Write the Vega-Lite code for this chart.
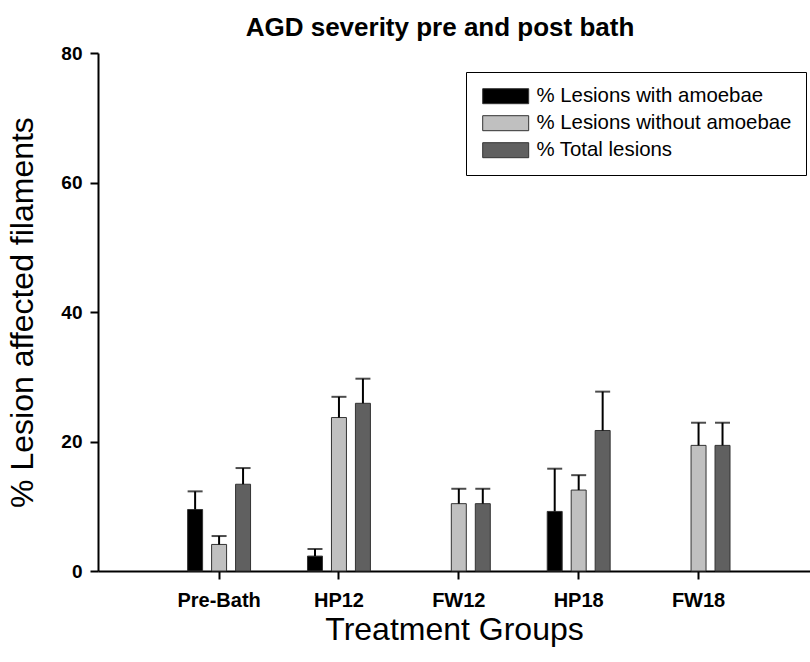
{
  "$schema": "https://vega.github.io/schema/vega-lite/v6.json",
  "autosize": {"type": "none"},
  "padding": {"left": 98, "top": 53, "right": 0, "bottom": 91},
  "width": 712,
  "height": 518,
  "background": "white",
  "title": {
    "text": "AGD severity pre and post bath",
    "font": "Liberation Sans",
    "fontSize": 26,
    "fontWeight": "bold",
    "color": "black",
    "anchor": "middle",
    "dx": -14,
    "offset": 3
  },
  "data": {
    "values": [
      {"group": "Pre-Bath", "series": "% Lesions with amoebae", "value": 9.5, "upper": 12.3},
      {"group": "Pre-Bath", "series": "% Lesions without amoebae", "value": 4.1, "upper": 5.4},
      {"group": "Pre-Bath", "series": "% Total lesions", "value": 13.4, "upper": 15.9},
      {"group": "HP12", "series": "% Lesions with amoebae", "value": 2.3, "upper": 3.4},
      {"group": "HP12", "series": "% Lesions without amoebae", "value": 23.7, "upper": 26.9},
      {"group": "HP12", "series": "% Total lesions", "value": 25.9, "upper": 29.7},
      {"group": "FW12", "series": "% Lesions without amoebae", "value": 10.4, "upper": 12.7},
      {"group": "FW12", "series": "% Total lesions", "value": 10.4, "upper": 12.7},
      {"group": "HP18", "series": "% Lesions with amoebae", "value": 9.2, "upper": 15.8},
      {"group": "HP18", "series": "% Lesions without amoebae", "value": 12.5, "upper": 14.8},
      {"group": "HP18", "series": "% Total lesions", "value": 21.7, "upper": 27.7},
      {"group": "FW18", "series": "% Lesions without amoebae", "value": 19.4, "upper": 22.9},
      {"group": "FW18", "series": "% Total lesions", "value": 19.4, "upper": 22.9}
    ]
  },
  "encoding": {
    "x": {
      "field": "group",
      "type": "nominal",
      "sort": ["Pre-Bath", "HP12", "FW12", "HP18", "FW18"],
      "scale": {"paddingInner": 0.4, "paddingOuter": 0.67, "align": 0.53},
      "axis": {
        "title": "Treatment Groups",
        "titleFont": "Liberation Sans",
        "titleFontSize": 32,
        "titleFontWeight": "normal",
        "titleColor": "black",
        "titlePadding": 4,
        "labelAngle": 0,
        "labelFont": "Liberation Sans",
        "labelFontSize": 20,
        "labelFontWeight": "bold",
        "labelColor": "black",
        "labelPadding": 11,
        "tickSize": 8,
        "tickWidth": 2,
        "tickColor": "black",
        "domainColor": "black",
        "domainWidth": 2
      }
    },
    "xOffset": {
      "field": "series",
      "type": "nominal",
      "sort": ["% Lesions with amoebae", "% Lesions without amoebae", "% Total lesions"],
      "scale": {"paddingInner": 0.375, "paddingOuter": 0.1875}
    }
  },
  "layer": [
    {
      "mark": {"type": "bar", "stroke": "#333333", "strokeWidth": 1},
      "encoding": {
        "y": {
          "field": "value",
          "type": "quantitative",
          "scale": {"domain": [0, 80], "nice": false},
          "axis": {
            "title": "% Lesion affected filaments",
            "titleFont": "Liberation Sans",
            "titleFontSize": 32,
            "titleFontWeight": "normal",
            "titleColor": "black",
            "titlePadding": 21,
            "values": [0, 20, 40, 60, 80],
            "grid": false,
            "labelFont": "Liberation Sans",
            "labelFontSize": 19,
            "labelFontWeight": "bold",
            "labelColor": "black",
            "labelPadding": 8,
            "tickSize": 8,
            "tickWidth": 2,
            "tickColor": "black",
            "domainColor": "black",
            "domainWidth": 2
          }
        },
        "color": {
          "field": "series",
          "type": "nominal",
          "scale": {
            "domain": ["% Lesions with amoebae", "% Lesions without amoebae", "% Total lesions"],
            "range": ["#000000", "#c0c0c0", "#606060"]
          },
          "legend": {
            "title": null,
            "orient": "none",
            "legendX": 368,
            "legendY": 19,
            "fillColor": "white",
            "strokeColor": "black",
            "padding": 14,
            "symbolType": "M-1,-1H5.13V1H-1Z",
            "symbolSize": 225,
            "symbolStrokeColor": "#333333",
            "symbolStrokeWidth": 1,
            "symbolOpacity": 1,
            "labelFont": "Liberation Sans",
            "labelFontSize": 20.4,
            "labelColor": "black",
            "labelOffset": 36,
            "labelLimit": 400,
            "rowPadding": 6
          }
        }
      }
    },
    {
      "mark": {"type": "rule", "color": "black", "strokeWidth": 2},
      "encoding": {
        "y": {"field": "value", "type": "quantitative"},
        "y2": {"field": "upper"}
      }
    },
    {
      "mark": {"type": "tick", "color": "black", "thickness": 2, "size": 15},
      "encoding": {
        "y": {"field": "upper", "type": "quantitative"}
      }
    }
  ],
  "config": {
    "view": {"stroke": null},
    "font": "Liberation Sans"
  }
}
